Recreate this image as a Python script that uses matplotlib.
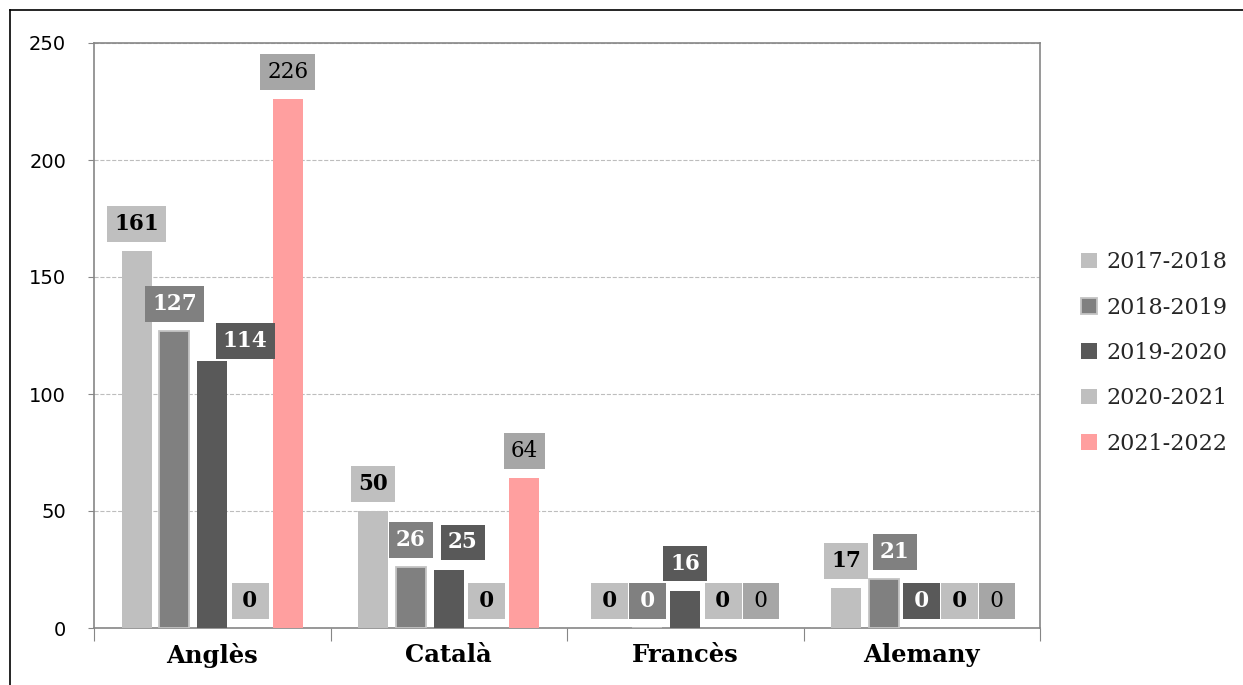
import numpy as np
import matplotlib
matplotlib.use('Agg')
import matplotlib.pyplot as plt
from matplotlib.lines import Line2D

# data
categories = ['Anglès', 'Català', 'Francès', 'Alemany']
series = ['2017-2018', '2018-2019', '2019-2020', '2020-2021', '2021-2022']
v_2017 = [161, 50, 0, 17]
v_2018 = [127, 26, 0, 21]
v_2019 = [114, 25, 16, 0]
v_2020 = [0, 0, 0, 0]
v_2021 = [226, 64, 0, 0]
values = [v_2017, v_2018, v_2019, v_2020, v_2021]
yticks = [0, 50, 100, 150, 200, 250]

# styles
bar_colors = ['#BFBFBF', '#808080', '#595959', '#BFBFBF', '#FF9F9F']
edge_widths = [0, 1.3, 0, 0, 0]
box_colors = ['#BFBFBF', '#808080', '#595959', '#BFBFBF', '#A6A6A6']
text_colors = ['black', 'white', 'white', 'black', 'black']
text_weights = ['bold', 'bold', 'bold', 'bold', 'normal']
# label nudges in pixels (category, series) -> (dx, dy)
nudge = {(0, 2): (33, -7), (1, 2): (14, 0), (3, 1): (11, 0)}

fig = plt.figure(figsize=(12.43, 6.85), dpi=100)
ax = fig.add_axes([94 / 1243, 1 - 628 / 685, (1040 - 94) / 1243, (628 - 43) / 685])

x = np.arange(len(categories))
slot = 0.8 / len(series)
width = slot * 0.79

for i, name in enumerate(series):
    pos = x - 0.4 + slot * (i + 0.5)
    bars = ax.bar(pos, values[i], width, color=bar_colors[i], edgecolor='#C4C4C4',
                  linewidth=edge_widths[i], label=name, zorder=3)
    for j, b in enumerate(bars):
        dx, dy = nudge.get((j, i), (0, 0))
        val = values[i][j]
        # single digits get a slightly wider box, like the reference
        txt = str(val) if val >= 10 else '\u2009' + str(val) + '\u2009'
        ax.annotate(txt, (b.get_x() + b.get_width() / 2, val),
                    xytext=(dx * 0.72, (27 + dy) * 0.72), textcoords='offset points',
                    ha='center', va='center', fontsize=15.5, family='DejaVu Serif',
                    fontweight=text_weights[i], color=text_colors[i], zorder=5,
                    bbox=dict(boxstyle='square,pad=0.32', fc=box_colors[i], ec='none'))

ax.set_xlim(-0.5, len(categories) - 0.5)
ax.set_ylim(0, 250)
ax.set_yticks(yticks)
ax.tick_params(axis='y', labelsize=14, length=4, color='#868686', pad=16)
ax.set_xticks(np.arange(-0.5, len(categories), 1))
ax.set_xticklabels([])
ax.set_xticks(x, minor=True)
ax.set_xticklabels(categories, minor=True, fontsize=17.5, fontweight='bold', family='DejaVu Serif')
ax.tick_params(axis='x', which='major', length=9, color='#868686')
ax.tick_params(axis='x', which='minor', length=0, pad=11)
ax.grid(axis='y', linestyle='--', color='#BDBDBD', linewidth=0.8, zorder=0)
for s in ax.spines.values():
    s.set_color('#868686')
    s.set_linewidth(1.2)

leg = fig.legend(loc='center left', bbox_to_anchor=(1061 / 1243, 1 - 353 / 685), frameon=False,
                 prop={'family': 'DejaVu Serif', 'size': 16}, handlelength=0.7, handleheight=0.7,
                 handletextpad=0.45, labelspacing=1.05, labelcolor='#262626')

# outer chart border
fig.add_artist(Line2D([10 / 1243, 10 / 1243], [0, 1 - 10 / 685], color='black', lw=1.2))
fig.add_artist(Line2D([10 / 1243, 1], [1 - 10 / 685, 1 - 10 / 685], color='black', lw=1.2))

fig.savefig('out.png', dpi=100)
